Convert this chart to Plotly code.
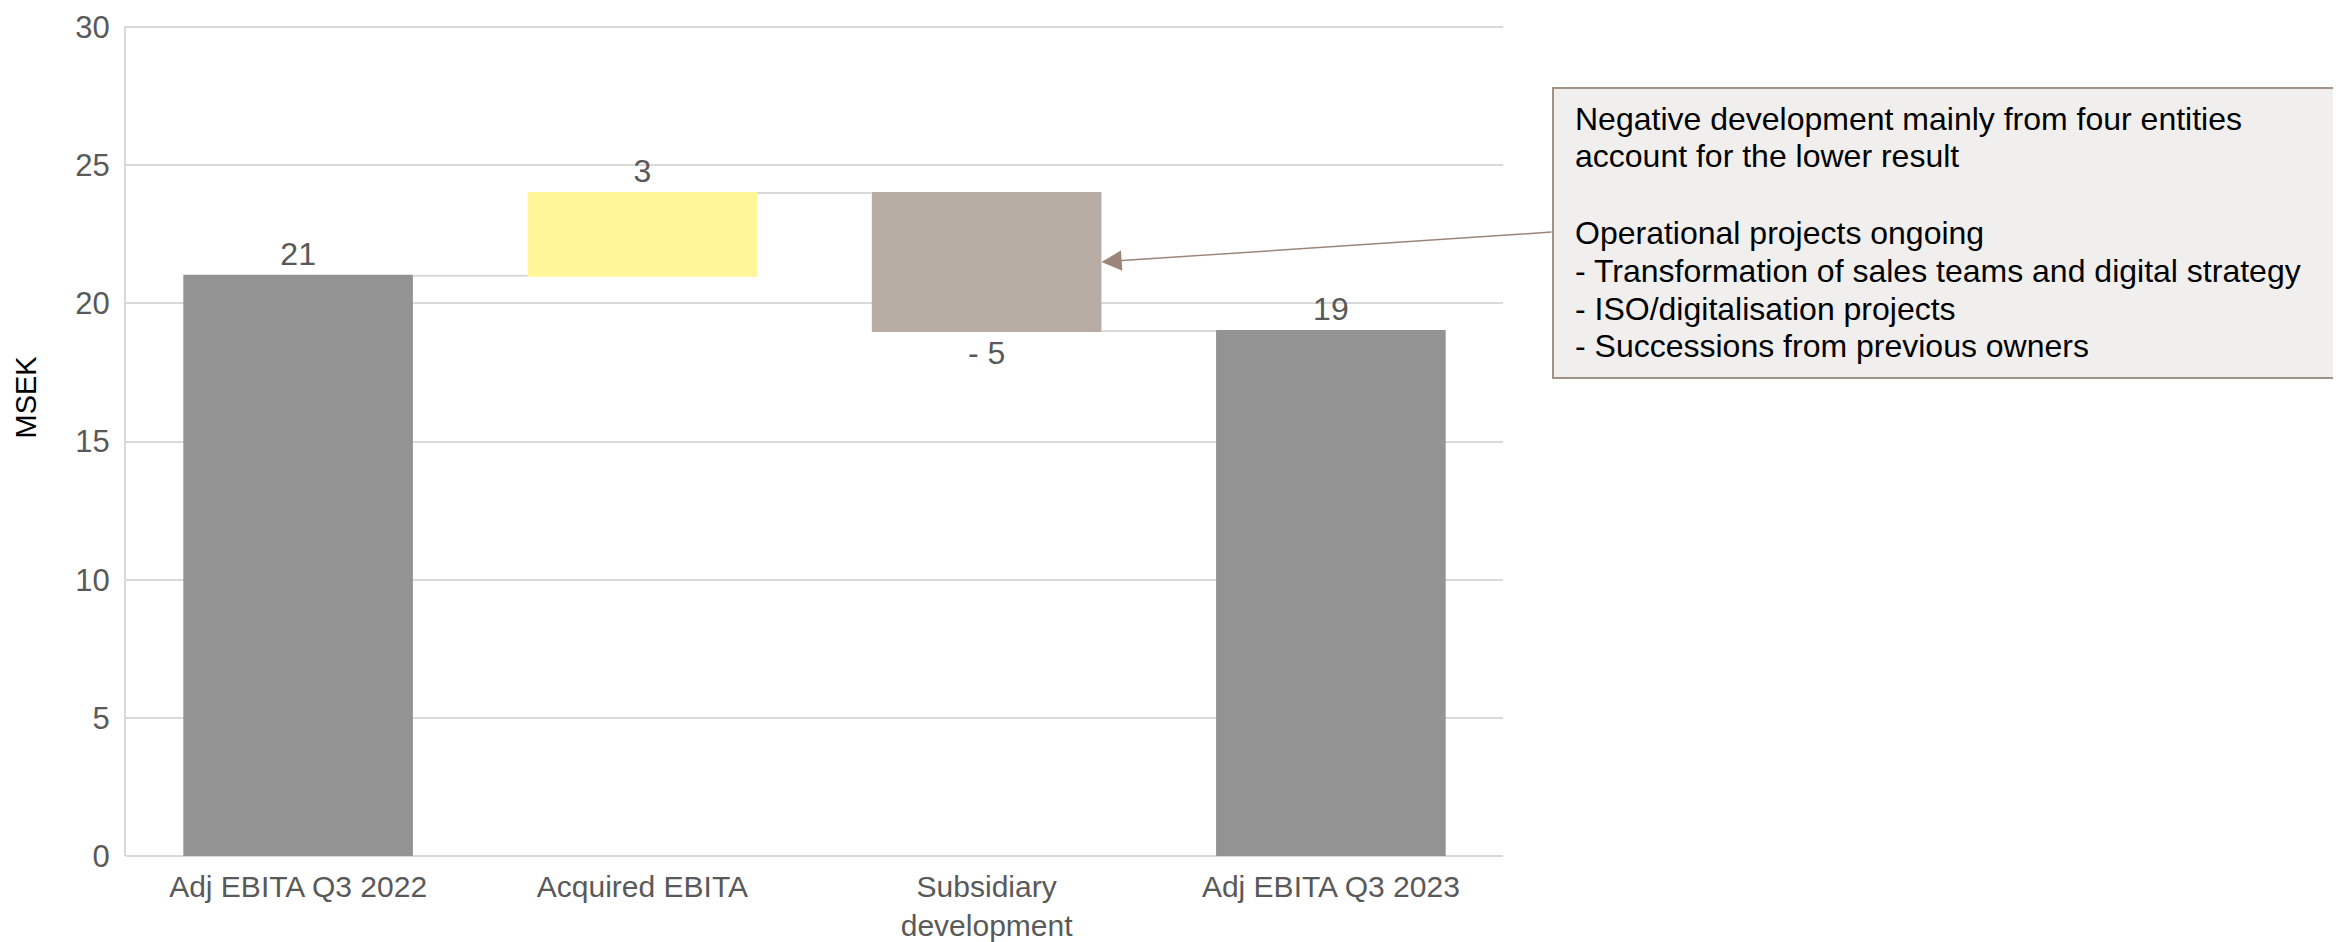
import plotly.graph_objects as go

# ---- data ----
categories = ["Adj EBITA Q3 2022", "Acquired EBITA", "Subsidiary<br>development", "Adj EBITA Q3 2023"]
values = [21, 3, -5, 19]
measures = ["absolute", "relative", "relative", "total"]
y_ticks = [0, 5, 10, 15, 20, 25, 30]
note_lines = [
    "Negative development mainly from four entities",
    "account for the lower result",
    "Operational projects ongoing",
    "- Transformation of sales teams and digital strategy",
    "- ISO/digitalisation projects",
    "- Successions from previous owners",
]
y_title = "MSEK"

# ---- styling ----
W, H = 2341, 942
ML, MR, MT, MB = 118, 846, 18, 94
PW, PH = W - ML - MR, H - MT - MB
FONT = "Liberation Sans, Arial, sans-serif"
GRID = "#d9d9d9"
LABEL = "#595959"
Y_MAX = 30.04

def px_x(px):
    return (px - ML) / PW

def px_y(py):
    return (H - MB - py) / PH

labels = [("- " + str(abs(v))) if v < 0 else str(v) for v in values]

fig = go.Figure(go.Waterfall(
    x=categories,
    y=values,
    measure=measures,
    text=labels,
    textposition="outside",
    outsidetextfont=dict(family=FONT, size=32, color=LABEL),
    textfont=dict(family=FONT, size=32, color=LABEL),
    constraintext="none",
    cliponaxis=False,
    increasing=dict(marker=dict(color="#FFF599")),
    decreasing=dict(marker=dict(color="#B8ADA4")),
    totals=dict(marker=dict(color="#939393")),
    connector=dict(mode="between", line=dict(color=GRID, width=2)),
    hoverinfo="skip",
))

# position of the subsidiary bar (derived from data)
sub_idx = 2
start_level = values[0] + values[1]
end_level = start_level + values[2]
arrow_y = (start_level + end_level) / 2
gap = 0.333
arrow_x = sub_idx + (1 - gap) / 2

# tail of the arrow sits on the left edge of the note box
box_left_px = 1545
tip_px_x = ML + (arrow_x + 0.5) / len(categories) * PW
tip_px_y = MT + (Y_MAX - arrow_y) / Y_MAX * PH

shapes = [dict(
    type="rect", xref="paper", yref="paper",
    x0=px_x(box_left_px), x1=px_x(2360), y0=px_y(370), y1=px_y(80),
    fillcolor="#F0EFED", line=dict(color="#A09287", width=2), layer="above",
)]

annotations = [
    dict(xref="paper", yref="paper", x=px_x(17.5), y=px_y(389), text=y_title,
         textangle=-90, showarrow=False, font=dict(family=FONT, size=29, color="#000000"),
         xanchor="center", yanchor="middle"),
    dict(x=arrow_x, y=arrow_y, xref="x", yref="y", text="", showarrow=True,
         ax=box_left_px - tip_px_x, ay=224 - tip_px_y, axref="pixel", ayref="pixel",
         arrowhead=2, arrowsize=2.7, arrowwidth=1.5, arrowcolor="#9B8679", standoff=0),
]
line_centers = [110.7, 148.3, 224.7, 263, 300.7, 338.3]
for txt, cy in zip(note_lines, line_centers):
    annotations.append(dict(
        xref="paper", yref="paper", x=px_x(1565), y=px_y(cy), text=txt,
        showarrow=False, xanchor="left", yanchor="middle", align="left",
        font=dict(family=FONT, size=32, color="#000000"),
    ))

fig.update_layout(
    width=W, height=H,
    margin=dict(l=ML, r=MR, t=MT, b=MB, pad=0, autoexpand=False),
    paper_bgcolor="white", plot_bgcolor="white",
    showlegend=False,
    waterfallgap=gap,
    font=dict(family=FONT, size=32, color=LABEL),
    shapes=shapes,
    annotations=annotations,
    xaxis=dict(
        range=[-0.5, len(categories) - 0.5], autorange=False, automargin=False,
        showgrid=False, showline=False, ticks="",
        tickfont=dict(family=FONT, size=30, color=LABEL),
        ticklabelstandoff=10,
        fixedrange=True,
    ),
    yaxis=dict(
        range=[0, Y_MAX], autorange=False, automargin=False, tickvals=y_ticks,
        showgrid=True, gridcolor=GRID, gridwidth=2,
        zeroline=True, zerolinecolor=GRID, zerolinewidth=2,
        showline=True, linecolor=GRID, linewidth=2, ticks="",
        tickfont=dict(family=FONT, size=31, color=LABEL),
        ticklabelstandoff=8, ticklabeloverflow="allow",
        fixedrange=True,
    ),
)

fig.write_html("out.html")
